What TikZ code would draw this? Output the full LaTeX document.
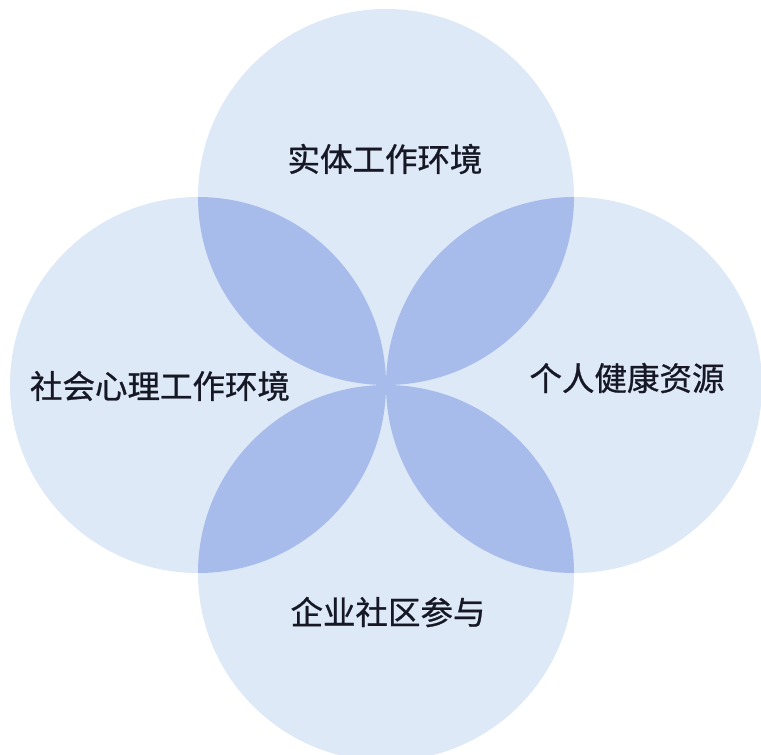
\documentclass[tikz,border=0pt]{standalone}
\usepackage{fontspec}
\setmainfont{Noto Sans CJK SC}
\newfontfamily\labfont{Noto Sans CJK SC}[FakeBold=0.8]
\begin{document}
\begin{tikzpicture}[x=1pt,y=-1pt]
\definecolor{petal}{RGB}{222,233,247}
\definecolor{lensc}{RGB}{168,188,236}
\definecolor{ink}{RGB}{22,24,38}
\tikzset{
  disc/.style={circle, minimum size=376pt, inner sep=0pt, fill=petal, draw=none},
  lab/.style={text=ink, font=\labfont\fontsize{32.5}{36}\selectfont, inner sep=0pt}
}
\fill[white] (0,0) rectangle (761,755);
\useasboundingbox (0,0) rectangle (761,755);
\clip (0,0) rectangle (761,755);
\coordinate (cT) at (386,197);
\coordinate (cL) at (198,385);
\coordinate (cR) at (574,385);
\coordinate (cB) at (386,573);
\node[disc] (top) at (cT) {};
\node[disc] (left) at (cL) {};
\node[disc] (right) at (cR) {};
\node[disc] (bottom) at (cB) {};
\begin{scope}
  \clip (cT) circle (188pt);
  \fill[lensc] (cL) circle (188pt);
  \fill[lensc] (cR) circle (188pt);
\end{scope}
\begin{scope}
  \clip (cB) circle (188pt);
  \fill[lensc] (cL) circle (188pt);
  \fill[lensc] (cR) circle (188pt);
\end{scope}
\node[lab] (tT) at (385,159) {实体工作环境};
\node[lab] (tL) at (160,386) {社会心理工作环境};
\node[lab] (tR) at (627,378) {个人健康资源};
\node[lab] (tB) at (388,612) {企业社区参与};
\end{tikzpicture}
\end{document}
